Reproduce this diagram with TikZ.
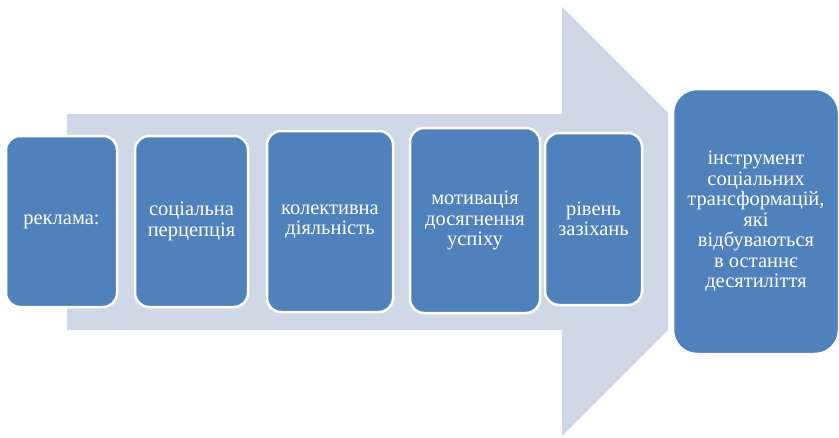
\documentclass[tikz,border=0pt]{standalone}
\usepackage{fontspec}
\setmainfont{Liberation Serif}
\definecolor{boxblue}{HTML}{4F81BD}
\definecolor{arrowgrey}{HTML}{D0D8E7}
\begin{document}
\begin{tikzpicture}[x=1pt,y=-1pt,
  stepbox/.style={rectangle, rounded corners=14pt, draw=white, line width=2.5pt,
    fill=boxblue, text=white, align=center, inner sep=2pt,
    font=\fontsize{20.5}{20.5}\selectfont},
]
\useasboundingbox (0,0) rectangle (839,437);
\fill[arrowgrey] (67,114) -- (562,114) -- (562,7) -- (668,113) -- (668,330) -- (562,436) -- (562,330) -- (67,330) -- cycle;
\node[stepbox, minimum width=111pt, minimum height=171pt] (b1) at (61.5,221.5) {реклама:};
\node[stepbox, minimum width=113pt, minimum height=171pt] (b2) at (191.5,221.5) {соціальна\\перцепція};
\node[stepbox, minimum width=126pt, minimum height=181pt] (b3) at (330,221.5) {колективна\\діяльність};
\node[stepbox, minimum width=130pt, minimum height=185pt] (b4) at (475,220.5) {мотивація\\досягнення\\успіху};
\node[stepbox, minimum width=97pt, minimum height=172pt] (b5) at (593.5,219) {рівень\\зазіхань};
\node[stepbox, rounded corners=24pt, minimum width=166pt, minimum height=265pt] (b6) at (756,221.5) {інструмент\\соціальних\\трансформацій,\\які\\відбуваються\\в останнє\\десятиліття};
\end{tikzpicture}
\end{document}
